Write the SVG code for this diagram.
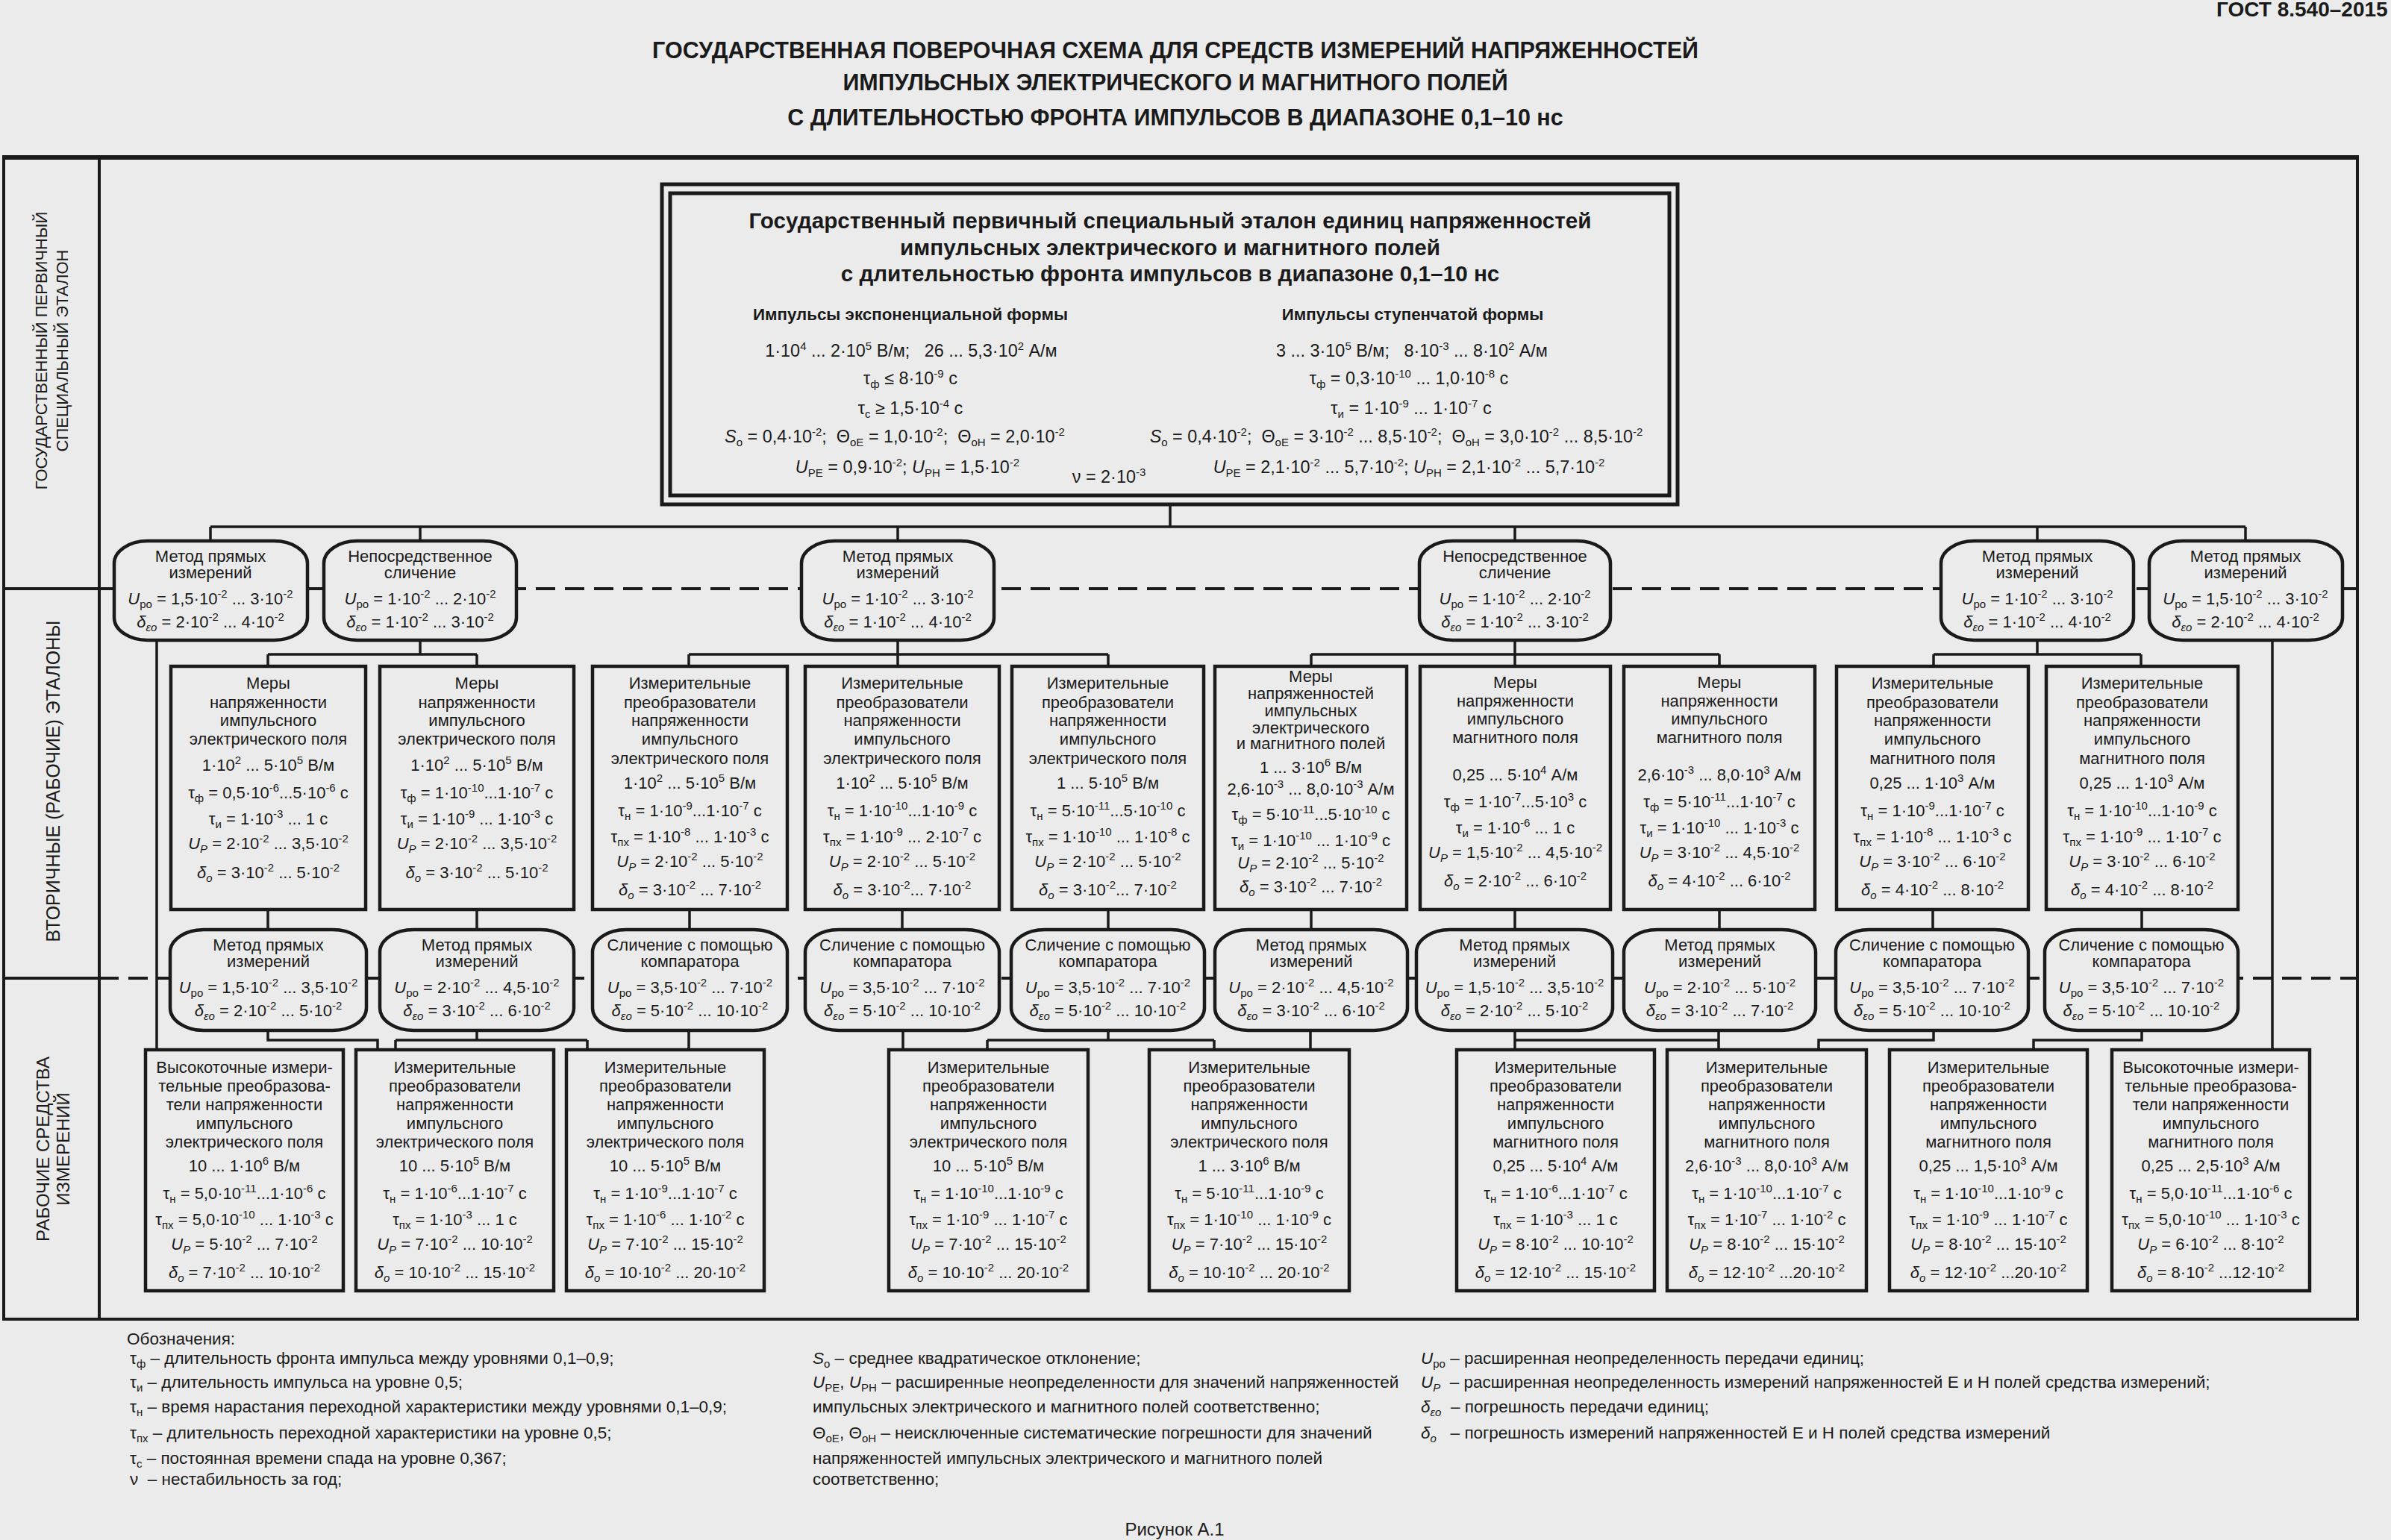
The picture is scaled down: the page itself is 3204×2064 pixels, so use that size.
<svg xmlns="http://www.w3.org/2000/svg" width="3204" height="2064" viewBox="0 0 3204 2064">
<style>
text{font-family:"Liberation Sans",Arial,sans-serif;fill:#1a1a1a}
.c{text-anchor:middle;font-size:22px}
.m{text-anchor:middle;font-size:23.4px}
.hb{text-anchor:middle;font-size:29.7px;font-weight:bold}
.sh{text-anchor:middle;font-size:22.3px;font-weight:bold}
.tt{text-anchor:middle;font-size:30.5px;font-weight:bold}
.lg{font-size:22.5px}
.vl{text-anchor:middle;font-size:24px}
.p{font-size:15px;baseline-shift:9px}
.b{font-size:15px;baseline-shift:-5px}
.i{font-style:italic}
.box{fill:#ebebeb;stroke:#1a1a1a;stroke-width:4.5}
.ln{fill:none;stroke:#1a1a1a;stroke-width:3.5}
.fr{fill:none;stroke:#1a1a1a;stroke-width:4}
.ds{fill:none;stroke:#1a1a1a;stroke-width:4;stroke-dasharray:26 13}
</style>
<rect x="0" y="0" width="3204" height="2064" fill="#ebebeb"/>

<g id="title">
<text class="tt" x="1575" y="78">ГОСУДАРСТВЕННАЯ ПОВЕРОЧНАЯ СХЕМА ДЛЯ СРЕДСТВ ИЗМЕРЕНИЙ НАПРЯЖЕННОСТЕЙ</text>
<text class="tt" x="1575" y="121">ИМПУЛЬСНЫХ ЭЛЕКТРИЧЕСКОГО И МАГНИТНОГО ПОЛЕЙ</text>
<text class="tt" x="1575" y="168">С ДЛИТЕЛЬНОСТЬЮ ФРОНТА ИМПУЛЬСОВ В ДИАПАЗОНЕ 0,1–10 нс</text>
<text x="2970" y="22" style="font-size:28px;font-weight:bold">ГОСТ 8.540–2015</text>
<text x="1574" y="2058" style="font-size:24px;text-anchor:middle">Рисунок А.1</text>
</g>

<g id="frame">
<rect class="fr" x="5" y="211" width="3154" height="1557"/>
<line x1="3" y1="211" x2="3161" y2="211" stroke="#1a1a1a" stroke-width="6"/>
<line class="fr" x1="133" y1="211" x2="133" y2="1768"/>
<line class="fr" x1="5" y1="789" x2="133" y2="789"/>
<line class="fr" x1="5" y1="1311" x2="133" y2="1311"/>
<line class="ds" x1="133" y1="789" x2="3159" y2="789"/>
<line class="ds" x1="133" y1="1311" x2="3159" y2="1311"/>
</g>

<g id="labels">
<text class="vl" style="font-size:22px" transform="translate(63,470) rotate(-90)">ГОСУДАРСТВЕННЫЙ ПЕРВИЧНЫЙ</text>
<text class="vl" style="font-size:22px" transform="translate(91,470) rotate(-90)">СПЕЦИАЛЬНЫЙ ЭТАЛОН</text>
<text class="vl" style="font-size:25px" transform="translate(80,1047) rotate(-90)">ВТОРИЧНЫЕ (РАБОЧИЕ) ЭТАЛОНЫ</text>
<text class="vl" transform="translate(66,1540) rotate(-90)">РАБОЧИЕ СРЕДСТВА</text>
<text class="vl" transform="translate(93,1540) rotate(-90)">ИЗМЕРЕНИЙ</text>
</g>

<g id="connectors">
<path class="ln" d="M1568,676V706M282,706H3009M282,706V725M563,706V725M1203,706V725M2030,706V725M2730,706V725M3009,706V725"/>
<path class="ln" d="M210,858V1407M3045,858V1407"/>
<path class="ln" d="M563,858V877M359,877H639M359,877V893M639,877V893"/>
<path class="ln" d="M1203,858V893M923,877H1485M923,877V893M1485,877V893"/>
<path class="ln" d="M2030,858V893M1757,877H2304M1757,877V893M2304,877V893"/>
<path class="ln" d="M2730,858V877M2591,877H2869M2591,877V893M2869,877V893"/>
<path class="ln" d="M359,1219V1246M639,1219V1246M924,1219V1246M1209,1219V1246M1485,1219V1246M1757,1219V1246M2030,1219V1246M2304,1219V1246M2590,1219V1246M2870,1219V1246"/>
<path class="ln" d="M359,1381V1394H506V1407M639,1381V1394M530,1394H787M530,1394V1407M787,1394V1407M923,1381V1407"/>
<path class="ln" d="M1210,1381V1407M1485,1381V1394M1323,1394H1627M1323,1394V1407M1627,1394V1407M1756,1381V1407"/>
<path class="ln" d="M2030,1381V1407M2030,1394H2303M2303,1381V1407M2591,1381V1394H2437V1407M2870,1381V1394H2725V1407"/>
</g>

<g id="primary">
<rect x="887" y="247" width="1361" height="429" fill="#ebebeb" stroke="#1a1a1a" stroke-width="5"/>
<rect x="898" y="259" width="1339" height="405" fill="none" stroke="#1a1a1a" stroke-width="5"/>
<text class="hb" x="1568" y="306">Государственный первичный специальный эталон единиц напряженностей</text>
<text class="hb" x="1568" y="342">импульсных электрического и магнитного полей</text>
<text class="hb" x="1568" y="377">с длительностью фронта импульсов в диапазоне 0,1–10 нс</text>
<text class="sh" x="1220" y="429">Импульсы экспоненциальной формы</text>
<text class="sh" x="1893" y="429">Импульсы ступенчатой формы</text>
<text class="m" x="1221" y="478" xml:space="preserve">1·10<tspan class="p">4</tspan> ... 2·10<tspan class="p">5</tspan> В/м;   26 ... 5,3·10<tspan class="p">2</tspan> А/м</text>
<text class="m" x="1892" y="478" xml:space="preserve">3 ... 3·10<tspan class="p">5</tspan> В/м;   8·10<tspan class="p">-3</tspan> ... 8·10<tspan class="p">2</tspan> А/м</text>
<text class="m" x="1220" y="515">τ<tspan class="b">ф</tspan> ≤ 8·10<tspan class="p">-9</tspan> с</text>
<text class="m" x="1888" y="515">τ<tspan class="b">ф</tspan> = 0,3·10<tspan class="p">-10</tspan> ... 1,0·10<tspan class="p">-8</tspan> с</text>
<text class="m" x="1220" y="555">τ<tspan class="b">с</tspan> ≥ 1,5·10<tspan class="p">-4</tspan> с</text>
<text class="m" x="1891" y="555">τ<tspan class="b">и</tspan> = 1·10<tspan class="p">-9</tspan> ... 1·10<tspan class="p">-7</tspan> с</text>
<text class="m" x="1199" y="593" xml:space="preserve"><tspan class="i">S</tspan><tspan class="b">o</tspan> = 0,4·10<tspan class="p">-2</tspan>;  Θ<tspan class="b">oE</tspan> = 1,0·10<tspan class="p">-2</tspan>;  Θ<tspan class="b">oH</tspan> = 2,0·10<tspan class="p">-2</tspan></text>
<text class="m" x="1871" y="593" xml:space="preserve"><tspan class="i">S</tspan><tspan class="b">o</tspan> = 0,4·10<tspan class="p">-2</tspan>;  Θ<tspan class="b">oE</tspan> = 3·10<tspan class="p">-2</tspan> ... 8,5·10<tspan class="p">-2</tspan>;  Θ<tspan class="b">oH</tspan> = 3,0·10<tspan class="p">-2</tspan> ... 8,5·10<tspan class="p">-2</tspan></text>
<text class="m" x="1216" y="634"><tspan class="i">U</tspan><tspan class="b">PE</tspan> = 0,9·10<tspan class="p">-2</tspan>; <tspan class="i">U</tspan><tspan class="b">PH</tspan> = 1,5·10<tspan class="p">-2</tspan></text>
<text class="m" x="1888" y="634"><tspan class="i">U</tspan><tspan class="b">PE</tspan> = 2,1·10<tspan class="p">-2</tspan> ... 5,7·10<tspan class="p">-2</tspan>; <tspan class="i">U</tspan><tspan class="b">PH</tspan> = 2,1·10<tspan class="p">-2</tspan> ... 5,7·10<tspan class="p">-2</tspan></text>
<text class="m" x="1486" y="647">ν = 2·10<tspan class="p">-3</tspan></text>
</g>

<g id="m1-1">
<rect class="box" x="153" y="725" width="259" height="133" rx="45" ry="30"/>
<text class="c" x="282" y="753">Метод прямых</text>
<text class="c" x="282" y="775">измерений</text>
<text class="c" x="282" y="810"><tspan class="i">U</tspan><tspan class="b">ро</tspan> = 1,5·10<tspan class="p">-2</tspan> ... 3·10<tspan class="p">-2</tspan></text>
<text class="c" x="282" y="841"><tspan class="i">δ</tspan><tspan class="b i">εo</tspan> = 2·10<tspan class="p">-2</tspan> ... 4·10<tspan class="p">-2</tspan></text>
</g>
<g id="m1-2">
<rect class="box" x="434" y="725" width="258" height="133" rx="45" ry="30"/>
<text class="c" x="563" y="753">Непосредственное</text>
<text class="c" x="563" y="775">сличение</text>
<text class="c" x="563" y="810"><tspan class="i">U</tspan><tspan class="b">ро</tspan> = 1·10<tspan class="p">-2</tspan> ... 2·10<tspan class="p">-2</tspan></text>
<text class="c" x="563" y="841"><tspan class="i">δ</tspan><tspan class="b i">εo</tspan> = 1·10<tspan class="p">-2</tspan> ... 3·10<tspan class="p">-2</tspan></text>
</g>
<g id="m1-3">
<rect class="box" x="1074" y="725" width="258" height="133" rx="45" ry="30"/>
<text class="c" x="1203" y="753">Метод прямых</text>
<text class="c" x="1203" y="775">измерений</text>
<text class="c" x="1203" y="810"><tspan class="i">U</tspan><tspan class="b">ро</tspan> = 1·10<tspan class="p">-2</tspan> ... 3·10<tspan class="p">-2</tspan></text>
<text class="c" x="1203" y="841"><tspan class="i">δ</tspan><tspan class="b i">εo</tspan> = 1·10<tspan class="p">-2</tspan> ... 4·10<tspan class="p">-2</tspan></text>
</g>
<g id="m1-4">
<rect class="box" x="1902" y="725" width="256" height="133" rx="45" ry="30"/>
<text class="c" x="2030" y="753">Непосредственное</text>
<text class="c" x="2030" y="775">сличение</text>
<text class="c" x="2030" y="810"><tspan class="i">U</tspan><tspan class="b">ро</tspan> = 1·10<tspan class="p">-2</tspan> ... 2·10<tspan class="p">-2</tspan></text>
<text class="c" x="2030" y="841"><tspan class="i">δ</tspan><tspan class="b i">εo</tspan> = 1·10<tspan class="p">-2</tspan> ... 3·10<tspan class="p">-2</tspan></text>
</g>
<g id="m1-5">
<rect class="box" x="2601" y="725" width="258" height="133" rx="45" ry="30"/>
<text class="c" x="2730" y="753">Метод прямых</text>
<text class="c" x="2730" y="775">измерений</text>
<text class="c" x="2730" y="810"><tspan class="i">U</tspan><tspan class="b">ро</tspan> = 1·10<tspan class="p">-2</tspan> ... 3·10<tspan class="p">-2</tspan></text>
<text class="c" x="2730" y="841"><tspan class="i">δ</tspan><tspan class="b i">εo</tspan> = 1·10<tspan class="p">-2</tspan> ... 4·10<tspan class="p">-2</tspan></text>
</g>
<g id="m1-6">
<rect class="box" x="2880" y="725" width="259" height="133" rx="45" ry="30"/>
<text class="c" x="3009" y="753">Метод прямых</text>
<text class="c" x="3009" y="775">измерений</text>
<text class="c" x="3009" y="810"><tspan class="i">U</tspan><tspan class="b">ро</tspan> = 1,5·10<tspan class="p">-2</tspan> ... 3·10<tspan class="p">-2</tspan></text>
<text class="c" x="3009" y="841"><tspan class="i">δ</tspan><tspan class="b i">εo</tspan> = 2·10<tspan class="p">-2</tspan> ... 4·10<tspan class="p">-2</tspan></text>
</g>

<g id="s1">
<rect class="box" x="229" y="893" width="261" height="326"/>
<text class="c" x="359.5" y="923">Меры</text>
<text class="c" x="359.5" y="949">напряженности</text>
<text class="c" x="359.5" y="973">импульсного</text>
<text class="c" x="359.5" y="998">электрического поля</text>
<text class="c" x="359.5" y="1033">1·10<tspan class="p">2</tspan> ... 5·10<tspan class="p">5</tspan> В/м</text>
<text class="c" x="359.5" y="1070">τ<tspan class="b">ф</tspan> = 0,5·10<tspan class="p">-6</tspan>...5·10<tspan class="p">-6</tspan> с</text>
<text class="c" x="359.5" y="1105">τ<tspan class="b">и</tspan> = 1·10<tspan class="p">-3</tspan> ... 1 с</text>
<text class="c" x="359.5" y="1138"><tspan class="i">U</tspan><tspan class="b i">P</tspan> = 2·10<tspan class="p">-2</tspan> ... 3,5·10<tspan class="p">-2</tspan></text>
<text class="c" x="359.5" y="1177"><tspan class="i">δ</tspan><tspan class="b i">o</tspan> = 3·10<tspan class="p">-2</tspan> ... 5·10<tspan class="p">-2</tspan></text>
</g>
<g id="s2">
<rect class="box" x="509" y="893" width="260" height="326"/>
<text class="c" x="639" y="923">Меры</text>
<text class="c" x="639" y="949">напряженности</text>
<text class="c" x="639" y="973">импульсного</text>
<text class="c" x="639" y="998">электрического поля</text>
<text class="c" x="639" y="1033">1·10<tspan class="p">2</tspan> ... 5·10<tspan class="p">5</tspan> В/м</text>
<text class="c" x="639" y="1070">τ<tspan class="b">ф</tspan> = 1·10<tspan class="p">-10</tspan>...1·10<tspan class="p">-7</tspan> с</text>
<text class="c" x="639" y="1105">τ<tspan class="b">и</tspan> = 1·10<tspan class="p">-9</tspan> ... 1·10<tspan class="p">-3</tspan> с</text>
<text class="c" x="639" y="1138"><tspan class="i">U</tspan><tspan class="b i">P</tspan> = 2·10<tspan class="p">-2</tspan> ... 3,5·10<tspan class="p">-2</tspan></text>
<text class="c" x="639" y="1177"><tspan class="i">δ</tspan><tspan class="b i">o</tspan> = 3·10<tspan class="p">-2</tspan> ... 5·10<tspan class="p">-2</tspan></text>
</g>
<g id="s3">
<rect class="box" x="794" y="893" width="261" height="326"/>
<text class="c" x="924.5" y="923">Измерительные</text>
<text class="c" x="924.5" y="949">преобразователи</text>
<text class="c" x="924.5" y="973">напряженности</text>
<text class="c" x="924.5" y="998">импульсного</text>
<text class="c" x="924.5" y="1024">электрического поля</text>
<text class="c" x="924.5" y="1057">1·10<tspan class="p">2</tspan> ... 5·10<tspan class="p">5</tspan> В/м</text>
<text class="c" x="924.5" y="1094">τ<tspan class="b">н</tspan> = 1·10<tspan class="p">-9</tspan>...1·10<tspan class="p">-7</tspan> с</text>
<text class="c" x="924.5" y="1129">τ<tspan class="b">пх</tspan> = 1·10<tspan class="p">-8</tspan> ... 1·10<tspan class="p">-3</tspan> с</text>
<text class="c" x="924.5" y="1162"><tspan class="i">U</tspan><tspan class="b i">P</tspan> = 2·10<tspan class="p">-2</tspan> ... 5·10<tspan class="p">-2</tspan></text>
<text class="c" x="924.5" y="1200"><tspan class="i">δ</tspan><tspan class="b i">o</tspan> = 3·10<tspan class="p">-2</tspan> ... 7·10<tspan class="p">-2</tspan></text>
</g>
<g id="s4">
<rect class="box" x="1079" y="893" width="260" height="326"/>
<text class="c" x="1209" y="923">Измерительные</text>
<text class="c" x="1209" y="949">преобразователи</text>
<text class="c" x="1209" y="973">напряженности</text>
<text class="c" x="1209" y="998">импульсного</text>
<text class="c" x="1209" y="1024">электрического поля</text>
<text class="c" x="1209" y="1057">1·10<tspan class="p">2</tspan> ... 5·10<tspan class="p">5</tspan> В/м</text>
<text class="c" x="1209" y="1094">τ<tspan class="b">н</tspan> = 1·10<tspan class="p">-10</tspan>...1·10<tspan class="p">-9</tspan> с</text>
<text class="c" x="1209" y="1129">τ<tspan class="b">пх</tspan> = 1·10<tspan class="p">-9</tspan> ... 2·10<tspan class="p">-7</tspan> с</text>
<text class="c" x="1209" y="1162"><tspan class="i">U</tspan><tspan class="b i">P</tspan> = 2·10<tspan class="p">-2</tspan> ... 5·10<tspan class="p">-2</tspan></text>
<text class="c" x="1209" y="1200"><tspan class="i">δ</tspan><tspan class="b i">o</tspan> = 3·10<tspan class="p">-2</tspan>... 7·10<tspan class="p">-2</tspan></text>
</g>
<g id="s5">
<rect class="box" x="1356" y="893" width="257" height="326"/>
<text class="c" x="1484.5" y="923">Измерительные</text>
<text class="c" x="1484.5" y="949">преобразователи</text>
<text class="c" x="1484.5" y="973">напряженности</text>
<text class="c" x="1484.5" y="998">импульсного</text>
<text class="c" x="1484.5" y="1024">электрического поля</text>
<text class="c" x="1484.5" y="1057">1 ... 5·10<tspan class="p">5</tspan> В/м</text>
<text class="c" x="1484.5" y="1094">τ<tspan class="b">н</tspan> = 5·10<tspan class="p">-11</tspan>...5·10<tspan class="p">-10</tspan> с</text>
<text class="c" x="1484.5" y="1129">τ<tspan class="b">пх</tspan> = 1·10<tspan class="p">-10</tspan> ... 1·10<tspan class="p">-8</tspan> с</text>
<text class="c" x="1484.5" y="1162"><tspan class="i">U</tspan><tspan class="b i">P</tspan> = 2·10<tspan class="p">-2</tspan> ... 5·10<tspan class="p">-2</tspan></text>
<text class="c" x="1484.5" y="1200"><tspan class="i">δ</tspan><tspan class="b i">o</tspan> = 3·10<tspan class="p">-2</tspan>... 7·10<tspan class="p">-2</tspan></text>
</g>
<g id="s6">
<rect class="box" x="1628" y="893" width="257" height="326"/>
<text class="c" x="1756.5" y="914">Меры</text>
<text class="c" x="1756.5" y="937">напряженностей</text>
<text class="c" x="1756.5" y="960">импульсных</text>
<text class="c" x="1756.5" y="983">электрического</text>
<text class="c" x="1756.5" y="1004">и магнитного полей</text>
<text class="c" x="1756.5" y="1036">1 ... 3·10<tspan class="p">6</tspan> В/м</text>
<text class="c" x="1756.5" y="1065">2,6·10<tspan class="p">-3</tspan> ... 8,0·10<tspan class="p">-3</tspan> А/м</text>
<text class="c" x="1756.5" y="1099">τ<tspan class="b">ф</tspan> = 5·10<tspan class="p">-11</tspan>...5·10<tspan class="p">-10</tspan> с</text>
<text class="c" x="1756.5" y="1134">τ<tspan class="b">и</tspan> = 1·10<tspan class="p">-10</tspan> ... 1·10<tspan class="p">-9</tspan> с</text>
<text class="c" x="1756.5" y="1164"><tspan class="i">U</tspan><tspan class="b i">P</tspan> = 2·10<tspan class="p">-2</tspan> ... 5·10<tspan class="p">-2</tspan></text>
<text class="c" x="1756.5" y="1196"><tspan class="i">δ</tspan><tspan class="b i">o</tspan> = 3·10<tspan class="p">-2</tspan> ... 7·10<tspan class="p">-2</tspan></text>
</g>
<g id="s7">
<rect class="box" x="1903" y="893" width="255" height="326"/>
<text class="c" x="2030.5" y="922">Меры</text>
<text class="c" x="2030.5" y="947">напряженности</text>
<text class="c" x="2030.5" y="971">импульсного</text>
<text class="c" x="2030.5" y="996">магнитного поля</text>
<text class="c" x="2030.5" y="1046">0,25 ... 5·10<tspan class="p">4</tspan> А/м</text>
<text class="c" x="2030.5" y="1082">τ<tspan class="b">ф</tspan> = 1·10<tspan class="p">-7</tspan>...5·10<tspan class="p">3</tspan> с</text>
<text class="c" x="2030.5" y="1117">τ<tspan class="b">и</tspan> = 1·10<tspan class="p">-6</tspan> ... 1 с</text>
<text class="c" x="2030.5" y="1150"><tspan class="i">U</tspan><tspan class="b i">P</tspan> = 1,5·10<tspan class="p">-2</tspan> ... 4,5·10<tspan class="p">-2</tspan></text>
<text class="c" x="2030.5" y="1188"><tspan class="i">δ</tspan><tspan class="b i">o</tspan> = 2·10<tspan class="p">-2</tspan> ... 6·10<tspan class="p">-2</tspan></text>
</g>
<g id="s8">
<rect class="box" x="2176" y="893" width="256" height="326"/>
<text class="c" x="2304" y="922">Меры</text>
<text class="c" x="2304" y="947">напряженности</text>
<text class="c" x="2304" y="971">импульсного</text>
<text class="c" x="2304" y="996">магнитного поля</text>
<text class="c" x="2304" y="1046">2,6·10<tspan class="p">-3</tspan> ... 8,0·10<tspan class="p">3</tspan> А/м</text>
<text class="c" x="2304" y="1082">τ<tspan class="b">ф</tspan> = 5·10<tspan class="p">-11</tspan>...1·10<tspan class="p">-7</tspan> с</text>
<text class="c" x="2304" y="1117">τ<tspan class="b">и</tspan> = 1·10<tspan class="p">-10</tspan> ... 1·10<tspan class="p">-3</tspan> с</text>
<text class="c" x="2304" y="1150"><tspan class="i">U</tspan><tspan class="b i">P</tspan> = 3·10<tspan class="p">-2</tspan> ... 4,5·10<tspan class="p">-2</tspan></text>
<text class="c" x="2304" y="1188"><tspan class="i">δ</tspan><tspan class="b i">o</tspan> = 4·10<tspan class="p">-2</tspan> ... 6·10<tspan class="p">-2</tspan></text>
</g>
<g id="s9">
<rect class="box" x="2461" y="893" width="257" height="326"/>
<text class="c" x="2589.5" y="923">Измерительные</text>
<text class="c" x="2589.5" y="949">преобразователи</text>
<text class="c" x="2589.5" y="973">напряженности</text>
<text class="c" x="2589.5" y="998">импульсного</text>
<text class="c" x="2589.5" y="1024">магнитного поля</text>
<text class="c" x="2589.5" y="1057">0,25 ... 1·10<tspan class="p">3</tspan> А/м</text>
<text class="c" x="2589.5" y="1094">τ<tspan class="b">н</tspan> = 1·10<tspan class="p">-9</tspan>...1·10<tspan class="p">-7</tspan> с</text>
<text class="c" x="2589.5" y="1129">τ<tspan class="b">пх</tspan> = 1·10<tspan class="p">-8</tspan> ... 1·10<tspan class="p">-3</tspan> с</text>
<text class="c" x="2589.5" y="1162"><tspan class="i">U</tspan><tspan class="b i">P</tspan> = 3·10<tspan class="p">-2</tspan> ... 6·10<tspan class="p">-2</tspan></text>
<text class="c" x="2589.5" y="1200"><tspan class="i">δ</tspan><tspan class="b i">o</tspan> = 4·10<tspan class="p">-2</tspan> ... 8·10<tspan class="p">-2</tspan></text>
</g>
<g id="s10">
<rect class="box" x="2742" y="893" width="257" height="326"/>
<text class="c" x="2870.5" y="923">Измерительные</text>
<text class="c" x="2870.5" y="949">преобразователи</text>
<text class="c" x="2870.5" y="973">напряженности</text>
<text class="c" x="2870.5" y="998">импульсного</text>
<text class="c" x="2870.5" y="1024">магнитного поля</text>
<text class="c" x="2870.5" y="1057">0,25 ... 1·10<tspan class="p">3</tspan> А/м</text>
<text class="c" x="2870.5" y="1094">τ<tspan class="b">н</tspan> = 1·10<tspan class="p">-10</tspan>...1·10<tspan class="p">-9</tspan> с</text>
<text class="c" x="2870.5" y="1129">τ<tspan class="b">пх</tspan> = 1·10<tspan class="p">-9</tspan> ... 1·10<tspan class="p">-7</tspan> с</text>
<text class="c" x="2870.5" y="1162"><tspan class="i">U</tspan><tspan class="b i">P</tspan> = 3·10<tspan class="p">-2</tspan> ... 6·10<tspan class="p">-2</tspan></text>
<text class="c" x="2870.5" y="1200"><tspan class="i">δ</tspan><tspan class="b i">o</tspan> = 4·10<tspan class="p">-2</tspan> ... 8·10<tspan class="p">-2</tspan></text>
</g>

<g id="m2-1">
<rect class="box" x="228" y="1246" width="263" height="135" rx="45" ry="30"/>
<text class="c" x="359.5" y="1274">Метод прямых</text>
<text class="c" x="359.5" y="1296">измерений</text>
<text class="c" x="359.5" y="1331"><tspan class="i">U</tspan><tspan class="b">ро</tspan> = 1,5·10<tspan class="p">-2</tspan> ... 3,5·10<tspan class="p">-2</tspan></text>
<text class="c" x="359.5" y="1362"><tspan class="i">δ</tspan><tspan class="b i">εo</tspan> = 2·10<tspan class="p">-2</tspan> ... 5·10<tspan class="p">-2</tspan></text>
</g>
<g id="m2-2">
<rect class="box" x="509" y="1246" width="260" height="135" rx="45" ry="30"/>
<text class="c" x="639" y="1274">Метод прямых</text>
<text class="c" x="639" y="1296">измерений</text>
<text class="c" x="639" y="1331"><tspan class="i">U</tspan><tspan class="b">ро</tspan> = 2·10<tspan class="p">-2</tspan> ... 4,5·10<tspan class="p">-2</tspan></text>
<text class="c" x="639" y="1362"><tspan class="i">δ</tspan><tspan class="b i">εo</tspan> = 3·10<tspan class="p">-2</tspan> ... 6·10<tspan class="p">-2</tspan></text>
</g>
<g id="m2-3">
<rect class="box" x="794" y="1246" width="261" height="135" rx="45" ry="30"/>
<text class="c" x="924.5" y="1274">Сличение с помощью</text>
<text class="c" x="924.5" y="1296">компаратора</text>
<text class="c" x="924.5" y="1331"><tspan class="i">U</tspan><tspan class="b">ро</tspan> = 3,5·10<tspan class="p">-2</tspan> ... 7·10<tspan class="p">-2</tspan></text>
<text class="c" x="924.5" y="1362"><tspan class="i">δ</tspan><tspan class="b i">εo</tspan> = 5·10<tspan class="p">-2</tspan> ... 10·10<tspan class="p">-2</tspan></text>
</g>
<g id="m2-4">
<rect class="box" x="1079" y="1246" width="260" height="135" rx="45" ry="30"/>
<text class="c" x="1209" y="1274">Сличение с помощью</text>
<text class="c" x="1209" y="1296">компаратора</text>
<text class="c" x="1209" y="1331"><tspan class="i">U</tspan><tspan class="b">ро</tspan> = 3,5·10<tspan class="p">-2</tspan> ... 7·10<tspan class="p">-2</tspan></text>
<text class="c" x="1209" y="1362"><tspan class="i">δ</tspan><tspan class="b i">εo</tspan> = 5·10<tspan class="p">-2</tspan> ... 10·10<tspan class="p">-2</tspan></text>
</g>
<g id="m2-5">
<rect class="box" x="1355" y="1246" width="259" height="135" rx="45" ry="30"/>
<text class="c" x="1484.5" y="1274">Сличение с помощью</text>
<text class="c" x="1484.5" y="1296">компаратора</text>
<text class="c" x="1484.5" y="1331"><tspan class="i">U</tspan><tspan class="b">ро</tspan> = 3,5·10<tspan class="p">-2</tspan> ... 7·10<tspan class="p">-2</tspan></text>
<text class="c" x="1484.5" y="1362"><tspan class="i">δ</tspan><tspan class="b i">εo</tspan> = 5·10<tspan class="p">-2</tspan> ... 10·10<tspan class="p">-2</tspan></text>
</g>
<g id="m2-6">
<rect class="box" x="1628" y="1246" width="258" height="135" rx="45" ry="30"/>
<text class="c" x="1757" y="1274">Метод прямых</text>
<text class="c" x="1757" y="1296">измерений</text>
<text class="c" x="1757" y="1331"><tspan class="i">U</tspan><tspan class="b">ро</tspan> = 2·10<tspan class="p">-2</tspan> ... 4,5·10<tspan class="p">-2</tspan></text>
<text class="c" x="1757" y="1362"><tspan class="i">δ</tspan><tspan class="b i">εo</tspan> = 3·10<tspan class="p">-2</tspan> ... 6·10<tspan class="p">-2</tspan></text>
</g>
<g id="m2-7">
<rect class="box" x="1898" y="1246" width="263" height="135" rx="45" ry="30"/>
<text class="c" x="2029.5" y="1274">Метод прямых</text>
<text class="c" x="2029.5" y="1296">измерений</text>
<text class="c" x="2029.5" y="1331"><tspan class="i">U</tspan><tspan class="b">ро</tspan> = 1,5·10<tspan class="p">-2</tspan> ... 3,5·10<tspan class="p">-2</tspan></text>
<text class="c" x="2029.5" y="1362"><tspan class="i">δ</tspan><tspan class="b i">εo</tspan> = 2·10<tspan class="p">-2</tspan> ... 5·10<tspan class="p">-2</tspan></text>
</g>
<g id="m2-8">
<rect class="box" x="2176" y="1246" width="257" height="135" rx="45" ry="30"/>
<text class="c" x="2304.5" y="1274">Метод прямых</text>
<text class="c" x="2304.5" y="1296">измерений</text>
<text class="c" x="2304.5" y="1331"><tspan class="i">U</tspan><tspan class="b">ро</tspan> = 2·10<tspan class="p">-2</tspan> ... 5·10<tspan class="p">-2</tspan></text>
<text class="c" x="2304.5" y="1362"><tspan class="i">δ</tspan><tspan class="b i">εo</tspan> = 3·10<tspan class="p">-2</tspan> ... 7·10<tspan class="p">-2</tspan></text>
</g>
<g id="m2-9">
<rect class="box" x="2460" y="1246" width="258" height="135" rx="45" ry="30"/>
<text class="c" x="2589" y="1274">Сличение с помощью</text>
<text class="c" x="2589" y="1296">компаратора</text>
<text class="c" x="2589" y="1331"><tspan class="i">U</tspan><tspan class="b">ро</tspan> = 3,5·10<tspan class="p">-2</tspan> ... 7·10<tspan class="p">-2</tspan></text>
<text class="c" x="2589" y="1362"><tspan class="i">δ</tspan><tspan class="b i">εo</tspan> = 5·10<tspan class="p">-2</tspan> ... 10·10<tspan class="p">-2</tspan></text>
</g>
<g id="m2-10">
<rect class="box" x="2740" y="1246" width="259" height="135" rx="45" ry="30"/>
<text class="c" x="2869.5" y="1274">Сличение с помощью</text>
<text class="c" x="2869.5" y="1296">компаратора</text>
<text class="c" x="2869.5" y="1331"><tspan class="i">U</tspan><tspan class="b">ро</tspan> = 3,5·10<tspan class="p">-2</tspan> ... 7·10<tspan class="p">-2</tspan></text>
<text class="c" x="2869.5" y="1362"><tspan class="i">δ</tspan><tspan class="b i">εo</tspan> = 5·10<tspan class="p">-2</tspan> ... 10·10<tspan class="p">-2</tspan></text>
</g>

<g id="w1">
<rect class="box" x="195" y="1407" width="265" height="323"/>
<text class="c" x="327.5" y="1438">Высокоточные измери-</text>
<text class="c" x="327.5" y="1463">тельные преобразова-</text>
<text class="c" x="327.5" y="1488">тели напряженности</text>
<text class="c" x="327.5" y="1513">импульсного</text>
<text class="c" x="327.5" y="1538">электрического поля</text>
<text class="c" x="327.5" y="1570">10 ... 1·10<tspan class="p">6</tspan> В/м</text>
<text class="c" x="327.5" y="1607">τ<tspan class="b">н</tspan> = 5,0·10<tspan class="p">-11</tspan>...1·10<tspan class="p">-6</tspan> с</text>
<text class="c" x="327.5" y="1642">τ<tspan class="b">пх</tspan> = 5,0·10<tspan class="p">-10</tspan> ... 1·10<tspan class="p">-3</tspan> с</text>
<text class="c" x="327.5" y="1675"><tspan class="i">U</tspan><tspan class="b i">P</tspan> = 5·10<tspan class="p">-2</tspan> ... 7·10<tspan class="p">-2</tspan></text>
<text class="c" x="327.5" y="1713"><tspan class="i">δ</tspan><tspan class="b i">o</tspan> = 7·10<tspan class="p">-2</tspan> ... 10·10<tspan class="p">-2</tspan></text>
</g>
<g id="w2">
<rect class="box" x="477" y="1407" width="265" height="323"/>
<text class="c" x="609.5" y="1438">Измерительные</text>
<text class="c" x="609.5" y="1463">преобразователи</text>
<text class="c" x="609.5" y="1488">напряженности</text>
<text class="c" x="609.5" y="1513">импульсного</text>
<text class="c" x="609.5" y="1538">электрического поля</text>
<text class="c" x="609.5" y="1570">10 ... 5·10<tspan class="p">5</tspan> В/м</text>
<text class="c" x="609.5" y="1607">τ<tspan class="b">н</tspan> = 1·10<tspan class="p">-6</tspan>...1·10<tspan class="p">-7</tspan> с</text>
<text class="c" x="609.5" y="1642">τ<tspan class="b">пх</tspan> = 1·10<tspan class="p">-3</tspan> ... 1 с</text>
<text class="c" x="609.5" y="1675"><tspan class="i">U</tspan><tspan class="b i">P</tspan> = 7·10<tspan class="p">-2</tspan> ... 10·10<tspan class="p">-2</tspan></text>
<text class="c" x="609.5" y="1713"><tspan class="i">δ</tspan><tspan class="b i">o</tspan> = 10·10<tspan class="p">-2</tspan> ... 15·10<tspan class="p">-2</tspan></text>
</g>
<g id="w3">
<rect class="box" x="759" y="1407" width="265" height="323"/>
<text class="c" x="891.5" y="1438">Измерительные</text>
<text class="c" x="891.5" y="1463">преобразователи</text>
<text class="c" x="891.5" y="1488">напряженности</text>
<text class="c" x="891.5" y="1513">импульсного</text>
<text class="c" x="891.5" y="1538">электрического поля</text>
<text class="c" x="891.5" y="1570">10 ... 5·10<tspan class="p">5</tspan> В/м</text>
<text class="c" x="891.5" y="1607">τ<tspan class="b">н</tspan> = 1·10<tspan class="p">-9</tspan>...1·10<tspan class="p">-7</tspan> с</text>
<text class="c" x="891.5" y="1642">τ<tspan class="b">пх</tspan> = 1·10<tspan class="p">-6</tspan> ... 1·10<tspan class="p">-2</tspan> с</text>
<text class="c" x="891.5" y="1675"><tspan class="i">U</tspan><tspan class="b i">P</tspan> = 7·10<tspan class="p">-2</tspan> ... 15·10<tspan class="p">-2</tspan></text>
<text class="c" x="891.5" y="1713"><tspan class="i">δ</tspan><tspan class="b i">o</tspan> = 10·10<tspan class="p">-2</tspan> ... 20·10<tspan class="p">-2</tspan></text>
</g>
<g id="w4">
<rect class="box" x="1191" y="1407" width="267" height="323"/>
<text class="c" x="1324.5" y="1438">Измерительные</text>
<text class="c" x="1324.5" y="1463">преобразователи</text>
<text class="c" x="1324.5" y="1488">напряженности</text>
<text class="c" x="1324.5" y="1513">импульсного</text>
<text class="c" x="1324.5" y="1538">электрического поля</text>
<text class="c" x="1324.5" y="1570">10 ... 5·10<tspan class="p">5</tspan> В/м</text>
<text class="c" x="1324.5" y="1607">τ<tspan class="b">н</tspan> = 1·10<tspan class="p">-10</tspan>...1·10<tspan class="p">-9</tspan> с</text>
<text class="c" x="1324.5" y="1642">τ<tspan class="b">пх</tspan> = 1·10<tspan class="p">-9</tspan> ... 1·10<tspan class="p">-7</tspan> с</text>
<text class="c" x="1324.5" y="1675"><tspan class="i">U</tspan><tspan class="b i">P</tspan> = 7·10<tspan class="p">-2</tspan> ... 15·10<tspan class="p">-2</tspan></text>
<text class="c" x="1324.5" y="1713"><tspan class="i">δ</tspan><tspan class="b i">o</tspan> = 10·10<tspan class="p">-2</tspan> ... 20·10<tspan class="p">-2</tspan></text>
</g>
<g id="w5">
<rect class="box" x="1540" y="1407" width="268" height="323"/>
<text class="c" x="1674" y="1438">Измерительные</text>
<text class="c" x="1674" y="1463">преобразователи</text>
<text class="c" x="1674" y="1488">напряженности</text>
<text class="c" x="1674" y="1513">импульсного</text>
<text class="c" x="1674" y="1538">электрического поля</text>
<text class="c" x="1674" y="1570">1 ... 3·10<tspan class="p">6</tspan> В/м</text>
<text class="c" x="1674" y="1607">τ<tspan class="b">н</tspan> = 5·10<tspan class="p">-11</tspan>...1·10<tspan class="p">-9</tspan> с</text>
<text class="c" x="1674" y="1642">τ<tspan class="b">пх</tspan> = 1·10<tspan class="p">-10</tspan> ... 1·10<tspan class="p">-9</tspan> с</text>
<text class="c" x="1674" y="1675"><tspan class="i">U</tspan><tspan class="b i">P</tspan> = 7·10<tspan class="p">-2</tspan> ... 15·10<tspan class="p">-2</tspan></text>
<text class="c" x="1674" y="1713"><tspan class="i">δ</tspan><tspan class="b i">o</tspan> = 10·10<tspan class="p">-2</tspan> ... 20·10<tspan class="p">-2</tspan></text>
</g>
<g id="w6">
<rect class="box" x="1952" y="1407" width="265" height="323"/>
<text class="c" x="2084.5" y="1438">Измерительные</text>
<text class="c" x="2084.5" y="1463">преобразователи</text>
<text class="c" x="2084.5" y="1488">напряженности</text>
<text class="c" x="2084.5" y="1513">импульсного</text>
<text class="c" x="2084.5" y="1538">магнитного поля</text>
<text class="c" x="2084.5" y="1570">0,25 ... 5·10<tspan class="p">4</tspan> А/м</text>
<text class="c" x="2084.5" y="1607">τ<tspan class="b">н</tspan> = 1·10<tspan class="p">-6</tspan>...1·10<tspan class="p">-7</tspan> с</text>
<text class="c" x="2084.5" y="1642">τ<tspan class="b">пх</tspan> = 1·10<tspan class="p">-3</tspan> ... 1 с</text>
<text class="c" x="2084.5" y="1675"><tspan class="i">U</tspan><tspan class="b i">P</tspan> = 8·10<tspan class="p">-2</tspan> ... 10·10<tspan class="p">-2</tspan></text>
<text class="c" x="2084.5" y="1713"><tspan class="i">δ</tspan><tspan class="b i">o</tspan> = 12·10<tspan class="p">-2</tspan> ... 15·10<tspan class="p">-2</tspan></text>
</g>
<g id="w7">
<rect class="box" x="2234" y="1407" width="267" height="323"/>
<text class="c" x="2367.5" y="1438">Измерительные</text>
<text class="c" x="2367.5" y="1463">преобразователи</text>
<text class="c" x="2367.5" y="1488">напряженности</text>
<text class="c" x="2367.5" y="1513">импульсного</text>
<text class="c" x="2367.5" y="1538">магнитного поля</text>
<text class="c" x="2367.5" y="1570">2,6·10<tspan class="p">-3</tspan> ... 8,0·10<tspan class="p">3</tspan> А/м</text>
<text class="c" x="2367.5" y="1607">τ<tspan class="b">н</tspan> = 1·10<tspan class="p">-10</tspan>...1·10<tspan class="p">-7</tspan> с</text>
<text class="c" x="2367.5" y="1642">τ<tspan class="b">пх</tspan> = 1·10<tspan class="p">-7</tspan> ... 1·10<tspan class="p">-2</tspan> с</text>
<text class="c" x="2367.5" y="1675"><tspan class="i">U</tspan><tspan class="b i">P</tspan> = 8·10<tspan class="p">-2</tspan> ... 15·10<tspan class="p">-2</tspan></text>
<text class="c" x="2367.5" y="1713"><tspan class="i">δ</tspan><tspan class="b i">o</tspan> = 12·10<tspan class="p">-2</tspan> ...20·10<tspan class="p">-2</tspan></text>
</g>
<g id="w8">
<rect class="box" x="2532" y="1407" width="265" height="323"/>
<text class="c" x="2664.5" y="1438">Измерительные</text>
<text class="c" x="2664.5" y="1463">преобразователи</text>
<text class="c" x="2664.5" y="1488">напряженности</text>
<text class="c" x="2664.5" y="1513">импульсного</text>
<text class="c" x="2664.5" y="1538">магнитного поля</text>
<text class="c" x="2664.5" y="1570">0,25 ... 1,5·10<tspan class="p">3</tspan> А/м</text>
<text class="c" x="2664.5" y="1607">τ<tspan class="b">н</tspan> = 1·10<tspan class="p">-10</tspan>...1·10<tspan class="p">-9</tspan> с</text>
<text class="c" x="2664.5" y="1642">τ<tspan class="b">пх</tspan> = 1·10<tspan class="p">-9</tspan> ... 1·10<tspan class="p">-7</tspan> с</text>
<text class="c" x="2664.5" y="1675"><tspan class="i">U</tspan><tspan class="b i">P</tspan> = 8·10<tspan class="p">-2</tspan> ... 15·10<tspan class="p">-2</tspan></text>
<text class="c" x="2664.5" y="1713"><tspan class="i">δ</tspan><tspan class="b i">o</tspan> = 12·10<tspan class="p">-2</tspan> ...20·10<tspan class="p">-2</tspan></text>
</g>
<g id="w9">
<rect class="box" x="2830" y="1407" width="265" height="323"/>
<text class="c" x="2962.5" y="1438">Высокоточные измери-</text>
<text class="c" x="2962.5" y="1463">тельные преобразова-</text>
<text class="c" x="2962.5" y="1488">тели напряженности</text>
<text class="c" x="2962.5" y="1513">импульсного</text>
<text class="c" x="2962.5" y="1538">магнитного поля</text>
<text class="c" x="2962.5" y="1570">0,25 ... 2,5·10<tspan class="p">3</tspan> А/м</text>
<text class="c" x="2962.5" y="1607">τ<tspan class="b">н</tspan> = 5,0·10<tspan class="p">-11</tspan>...1·10<tspan class="p">-6</tspan> с</text>
<text class="c" x="2962.5" y="1642">τ<tspan class="b">пх</tspan> = 5,0·10<tspan class="p">-10</tspan> ... 1·10<tspan class="p">-3</tspan> с</text>
<text class="c" x="2962.5" y="1675"><tspan class="i">U</tspan><tspan class="b i">P</tspan> = 6·10<tspan class="p">-2</tspan> ... 8·10<tspan class="p">-2</tspan></text>
<text class="c" x="2962.5" y="1713"><tspan class="i">δ</tspan><tspan class="b i">o</tspan> = 8·10<tspan class="p">-2</tspan> ...12·10<tspan class="p">-2</tspan></text>
</g>

<g id="legend">
<text class="lg" x="170" y="1802">Обозначения:</text>
<text class="lg" x="174" y="1828">τ<tspan class="b">ф</tspan> – длительность фронта импульса между уровнями 0,1–0,9;</text>
<text class="lg" x="174" y="1860">τ<tspan class="b">и</tspan> – длительность импульса на уровне 0,5;</text>
<text class="lg" x="174" y="1893">τ<tspan class="b">н</tspan> – время нарастания переходной характеристики между уровнями 0,1–0,9;</text>
<text class="lg" x="174" y="1928">τ<tspan class="b">пх</tspan> – длительность переходной характеристики на уровне 0,5;</text>
<text class="lg" x="174" y="1962">τ<tspan class="b">с</tspan> – постоянная времени спада на уровне 0,367;</text>
<text class="lg" x="174" y="1990" xml:space="preserve">ν  – нестабильность за год;</text>
<text class="lg" x="1089" y="1828"><tspan class="i">S</tspan><tspan class="b">o</tspan> – среднее квадратическое отклонение;</text>
<text class="lg" x="1089" y="1860"><tspan class="i">U</tspan><tspan class="b">PE</tspan>, <tspan class="i">U</tspan><tspan class="b">PH</tspan> – расширенные неопределенности для значений напряженностей</text>
<text class="lg" x="1089" y="1893">импульсных электрического и магнитного полей соответственно;</text>
<text class="lg" x="1089" y="1928">Θ<tspan class="b">oE</tspan>, Θ<tspan class="b">oH</tspan> – неисключенные систематические погрешности для значений</text>
<text class="lg" x="1089" y="1962">напряженностей импульсных электрического и магнитного полей</text>
<text class="lg" x="1089" y="1990">соответственно;</text>
<text class="lg" x="1904" y="1828"><tspan class="i">U</tspan><tspan class="b">ро</tspan> – расширенная неопределенность передачи единиц;</text>
<text class="lg" x="1904" y="1860" xml:space="preserve"><tspan class="i">U</tspan><tspan class="b i">P</tspan>  – расширенная неопределенность измерений напряженностей E и H полей средства измерений;</text>
<text class="lg" x="1904" y="1893" xml:space="preserve"><tspan class="i">δ</tspan><tspan class="b i">εo</tspan>  – погрешность передачи единиц;</text>
<text class="lg" x="1904" y="1928" xml:space="preserve"><tspan class="i">δ</tspan><tspan class="b i">o</tspan>   – погрешность измерений напряженностей E и H полей средства измерений</text>
</g>
</svg>
